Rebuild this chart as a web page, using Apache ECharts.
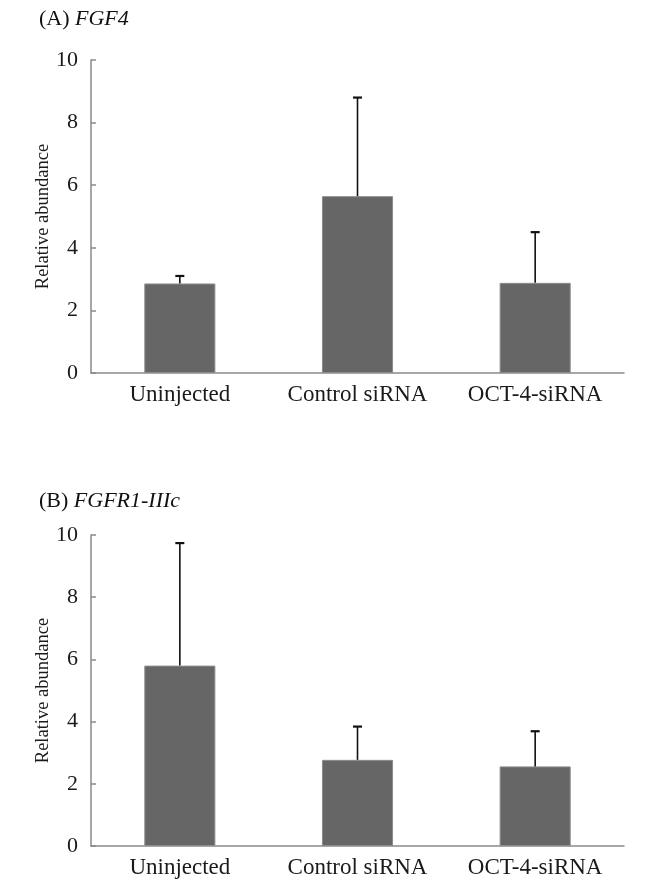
<!DOCTYPE html>
<html>
<head>
<meta charset="utf-8">
<script src="https://cdn.jsdelivr.net/npm/echarts@6/dist/echarts.min.js"></script>
<style>
  html, body { margin: 0; padding: 0; background: #fff; }
  #chart { width: 661px; height: 882px; }
</style>
</head>
<body>
<div id="chart"></div>
<script>
const categories = ['Uninjected', 'Control siRNA', 'OCT-4-siRNA']
const yTicks = [0, 2, 4, 6, 8, 10]

// panel A: FGF4
const fgf4Mean = [2.86, 5.65, 2.88]
const fgf4Upper = [3.1, 8.8, 4.5]

// panel B: FGFR1-IIIc
const fgfr1Mean = [5.8, 2.77, 2.56]
const fgfr1Upper = [9.74, 3.84, 3.69]

const FONT = '"Liberation Serif", "DejaVu Serif", serif'
const AXIS_GREY = '#8a8a8a'

const makeX = (gridIndex) => ({
  type: 'category',
  gridIndex,
  data: categories,
  boundaryGap: true,
  axisLine: { lineStyle: { color: AXIS_GREY, width: 1.5 } },
  axisTick: { inside: true, length: 4, lineStyle: { color: AXIS_GREY, width: 1.5 } },
  axisLabel: { interval: 0, hideOverlap: false, fontFamily: FONT, fontSize: 23, color: '#1a1a1a', margin: 10 },
})

const makeY = (gridIndex) => ({
  type: 'value',
  gridIndex,
  min: yTicks[0],
  max: yTicks[yTicks.length - 1],
  interval: 2,
  name: 'Relative abundance',
  nameLocation: 'middle',
  nameGap: 38,
  nameRotate: 90,
  nameMoveOverlap: false,
  nameTextStyle: { fontFamily: FONT, fontSize: 18.5, color: '#1a1a1a' },
  splitLine: { show: false },
  axisLine: { show: true, lineStyle: { color: AXIS_GREY, width: 1.5 } },
  axisTick: { show: true, inside: true, length: 5, lineStyle: { color: AXIS_GREY, width: 1.5 } },
  axisLabel: { fontFamily: FONT, fontSize: 22, color: '#1a1a1a', margin: 13 },
})

const barSeries = (idx, data) => ({
  type: 'bar',
  xAxisIndex: idx,
  yAxisIndex: idx,
  data,
  barWidth: '40%',
  itemStyle: { color: '#666666', borderColor: '#8c8c8c', borderWidth: 1 },
  z: 2,
})

// error bar: vertical line from the bar top to the upper value, with a short cap
const errorSeries = (idx, mean, upper) => ({
  type: 'custom',
  xAxisIndex: idx,
  yAxisIndex: idx,
  data: mean.map((m, i) => [i, m, upper[i]]),
  renderItem: (params, api) => {
    const low = api.coord([api.value(0), api.value(1)])
    const high = api.coord([api.value(0), api.value(2)])
    const half = 4.5
    return {
      type: 'group',
      children: [
        { type: 'line', shape: { x1: low[0], y1: low[1], x2: high[0], y2: high[1] }, style: { stroke: '#111', lineWidth: 1.6 } },
        { type: 'line', shape: { x1: high[0] - half, y1: high[1], x2: high[0] + half, y2: high[1] }, style: { stroke: '#111', lineWidth: 2.2 } },
      ],
    }
  },
  z: 3,
})

const titleStyle = { fontFamily: FONT, fontSize: 22, color: '#111', fontWeight: 'normal' }

const chart = echarts.init(document.getElementById('chart'), null, { renderer: 'canvas' })
chart.setOption({
  backgroundColor: '#fff',
  animation: false,
  title: [
    {
      text: '(A) {i|FGF4}',
      left: 34, top: 3,
      textStyle: { ...titleStyle, rich: { i: { ...titleStyle, fontStyle: 'italic' } } },
    },
    {
      text: '(B) {i|FGFR1-IIIc}',
      left: 34, top: 485,
      textStyle: { ...titleStyle, rich: { i: { ...titleStyle, fontStyle: 'italic' } } },
    },
  ],
  grid: [
    { left: 91, right: 37, top: 60, height: 313 },
    { left: 91, right: 37, top: 535, height: 311 },
  ],
  xAxis: [makeX(0), makeX(1)],
  yAxis: [makeY(0), makeY(1)],
  series: [
    barSeries(0, fgf4Mean),
    errorSeries(0, fgf4Mean, fgf4Upper),
    barSeries(1, fgfr1Mean),
    errorSeries(1, fgfr1Mean, fgfr1Upper),
  ],
})
</script>
</body>
</html>
